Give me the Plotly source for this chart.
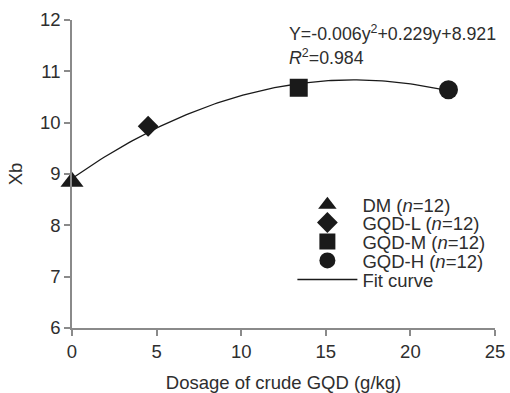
import numpy as np
import plotly.graph_objects as go

groups = ["DM", "GQD-L", "GQD-M", "GQD-H"]
dosage = [0.0, 4.5, 13.4, 22.25]
xb = [8.85, 9.93, 10.68, 10.64]
symbols = ["triangle-up", "diamond", "square", "circle"]
sizes = [20, 16, 18, 19]

x_ticks = [0, 5, 10, 15, 20, 25]
y_ticks = [6, 7, 8, 9, 10, 11, 12]

FONT = "Liberation Sans, Arial, sans-serif"
TXT = "#2e2e2e"
AX = "#8a8a8a"
MK = "#1a1a1a"
FS = 18.5

coef = np.polyfit(dosage, xb, 2)
xf = np.linspace(dosage[0], dosage[-1], 120)
yf = np.polyval(coef, xf)

# legend rows (paper y of each row centre), one legend per entry
legend_rows = [0.399, 0.341, 0.279, 0.218, 0.156]
legend_x = 0.521
legend_ids = ["legend", "legend2", "legend3", "legend4", "legend5"]

fig = go.Figure()
fig.add_trace(go.Scatter(x=xf, y=yf, mode="lines", name="Fit curve",
                         line=dict(color=MK, width=1.3), legend=legend_ids[4]))
for i, (g, x, y, s, sz) in enumerate(zip(groups, dosage, xb, symbols, sizes)):
    fig.add_trace(go.Scatter(
        x=[x], y=[y], mode="markers", name=f"{g} (<i>n</i>=12)",
        marker=dict(symbol=s, size=sz, color=MK, line=dict(width=0)),
        cliponaxis=False, legend=legend_ids[i]))

legend_style = dict(xanchor="left", yanchor="middle", bgcolor="rgba(0,0,0,0)",
                    itemwidth=60, font=dict(family=FONT, size=FS, color=TXT),
                    borderwidth=0)
layout_legends = {lid: dict(x=legend_x, y=ly, **legend_style)
                  for lid, ly in zip(legend_ids, legend_rows)}

fig.update_layout(
    width=510, height=393,
    margin=dict(l=72, r=15, t=20, b=65),
    paper_bgcolor="white", plot_bgcolor="white",
    font=dict(family=FONT, size=FS, color=TXT),
    showlegend=True,
    annotations=[
        dict(x=0.508, y=0.958, xref="paper", yref="paper", xanchor="left", yanchor="middle",
             text="Y=-0.006y<sup>2</sup>+0.229y+8.921", showarrow=False,
             font=dict(size=17.8, color=TXT)),
        dict(x=0.508, y=0.88, xref="paper", yref="paper", xanchor="left", yanchor="middle",
             text="<i>R</i><sup>2</sup>=0.984", showarrow=False,
             font=dict(size=17.8, color=TXT)),
    ],
    **layout_legends,
)
fig.update_xaxes(range=[0, 25], tickvals=x_ticks, showgrid=False, zeroline=False,
                 showline=True, linecolor=AX, linewidth=1.5, ticks="outside",
                 tickcolor=AX, ticklen=6, tickwidth=1.5, automargin=False,
                 tickfont=dict(size=FS, color=TXT),
                 title=dict(text="Dosage of crude GQD (g/kg)", font=dict(size=FS, color=TXT), standoff=16))
fig.update_yaxes(range=[6, 12], tickvals=y_ticks, showgrid=False, zeroline=False,
                 showline=True, linecolor=AX, linewidth=1.5, ticks="outside",
                 tickcolor=AX, ticklen=6, tickwidth=1.5, automargin=False,
                 tickfont=dict(size=FS, color=TXT),
                 title=dict(text="Xb", font=dict(size=FS, color=TXT), standoff=12))

fig.write_html("out.html", config={"displayModeBar": False},
               post_script="document.body.style.margin='0';document.body.style.overflow='hidden';")
